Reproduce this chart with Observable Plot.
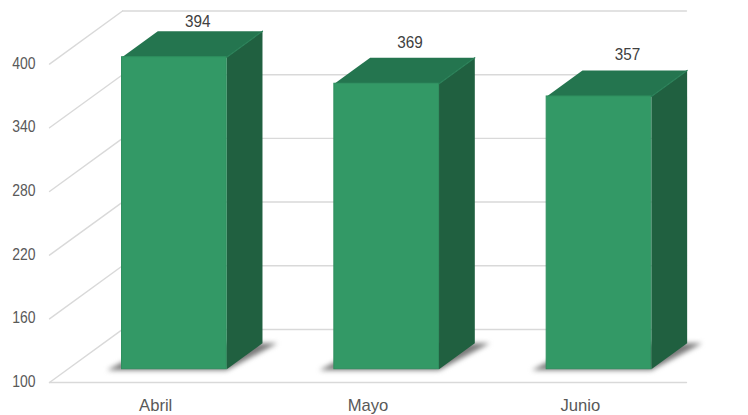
<!DOCTYPE html>
<html><head><meta charset="utf-8">
<style>html,body{margin:0;padding:0;background:#fff}svg{display:block}</style>
<script src="https://cdn.jsdelivr.net/npm/d3@7"></script>
<script src="https://cdn.jsdelivr.net/npm/@observablehq/plot@0.6"></script>
</head><body><div id="c"></div>
<script>
const months = ["Abril","Mayo","Junio"];
const values = [394,369,357];
const yTicks = [100,160,220,280,340,400];
const labelDx = [-12,-12,-7];
const labelDy = [-10,-15,-16];

const skewX = 0.344, riseY = 50;           // depth projection, in data units
const barW = 0.493, d0 = 0.25, d1 = 0.74;  // bar footprint
const floor = 100;
const P = (u,v,d) => ({x:u+d*skewX, y:v+d*riseY});

const front="#339966", top_="#24754f", side="#206040", grid="#d9d9d9";
const poly = (pts,fill,extra={}) => Plot.line(pts,{x:"x",y:"y",fill,stroke:null,curve:"linear-closed",...extra});
const seg = (a,b,o) => Plot.line([a,b],{x:"x",y:"y",...o});

const marks = [];
for (const t of yTicks) {
  marks.push(seg(P(0,t,1),{x:3.0,y:t+riseY},{stroke:grid,strokeWidth:1.4}));
  marks.push(seg(P(0,t,0),P(0,t,1),{stroke:grid,strokeWidth:1.4}));
}
marks.push(seg(P(0,floor,0),P(3,floor,0),{stroke:grid,strokeWidth:1.4}));

values.forEach((v,i)=>{
  const a=i+0.502-barW/2, b=i+0.502+barW/2;
  marks.push(poly([
    P(a-0.07,floor-1,d0),P(b,floor-1,d0),
    P(b+0.07,floor,d1),P(a,floor,d1)
  ],"#7a7a7a",{imageFilter:"blur(2.5px)"}));
  marks.push(poly([P(b,floor,d0),P(b,floor,d1),P(b,v,d1),P(b,v,d0)],side));
  marks.push(poly([P(a,v,d0),P(b,v,d0),P(b,v,d1),P(a,v,d1)],top_));
  marks.push(Plot.rect([{x1:P(a,0,d0).x,x2:P(b,0,d0).x,y1:P(0,floor,d0).y,y2:P(0,v,d0).y}],
    {x1:"x1",x2:"x2",y1:"y1",y2:"y2",fill:front,stroke:"#2f8f5f",strokeWidth:1}));
  marks.push(seg(P(b,v,d0),P(b,v,d1),{stroke:"#2a8058",strokeWidth:1.2}));
  const lp=P(i+0.5,v,d1);
  marks.push(Plot.text([{...lp,t:String(v)}],{x:"x",y:"y",text:"t",dx:labelDx[i],dy:labelDy[i],
    fill:"#404040",fontSize:17,className:"val"}));
});

marks.push(Plot.axisY({ticks:yTicks,tickSize:0,tickPadding:0,label:null,anchor:"left",fontSize:17,color:"#595959",dy:-1,className:"yax"}));
marks.push(Plot.axisX({ticks:[0.5,1.5,2.5],tickFormat:d=>months[Math.floor(d)],tickSize:0,tickPadding:3,label:null,anchor:"bottom",fontSize:17,color:"#595959",className:"xax"}));

const chart = Plot.plot({
  width:748,height:415,
  marginLeft:35,marginRight:0,marginTop:0,marginBottom:20,
  style:{fontFamily:"'Liberation Sans',Arial,sans-serif",background:"#fff"},
  x:{type:"linear",domain:[0,3],range:[49,686]},
  y:{type:"linear",domain:[100,400],range:[382,63.6]},
  marks
});
document.getElementById("c").append(chart);
// the reference's digits are horizontally condensed
const squeeze=(sel,k)=>chart.querySelectorAll(sel).forEach(t=>{
  t.setAttribute("textLength",(t.getComputedTextLength()*k).toFixed(1));
  t.setAttribute("lengthAdjust","spacingAndGlyphs");
});
squeeze(".val text, text.val",0.9);
squeeze(".yax text, text.yax",0.82);
squeeze(".xax text, text.xax",0.98);
</script></body></html>
